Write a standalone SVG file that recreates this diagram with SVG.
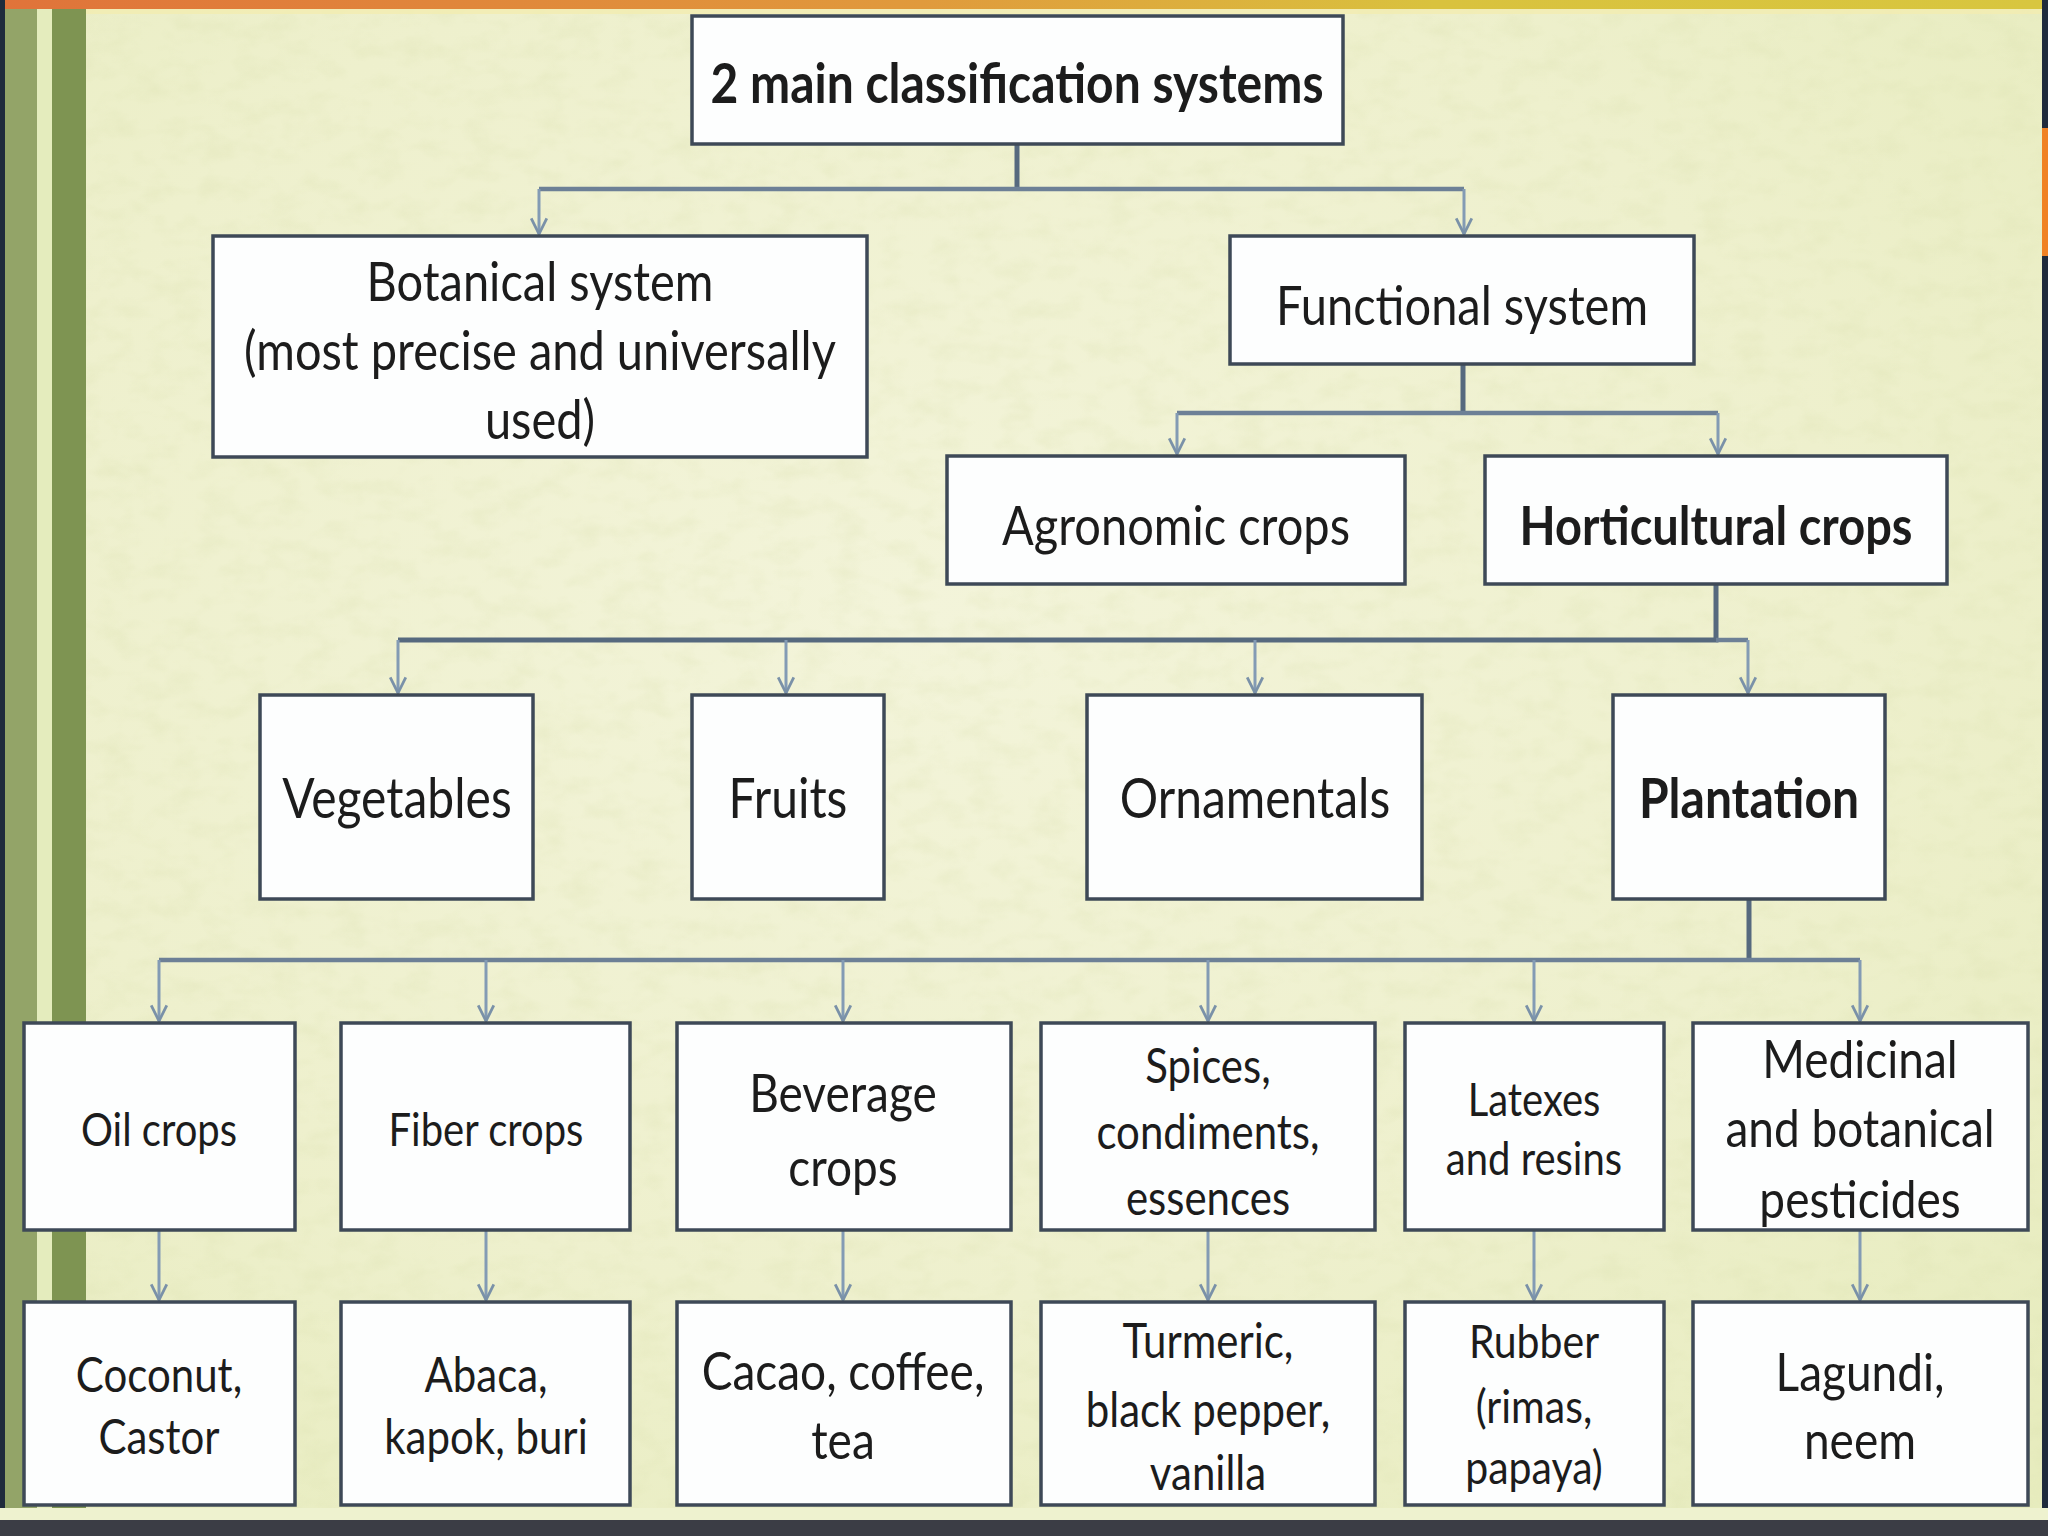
<svg xmlns="http://www.w3.org/2000/svg" width="2048" height="1536" viewBox="0 0 2048 1536">
<defs>
<radialGradient id="bg" cx="0.45" cy="0.4" r="0.75">
<stop offset="0" stop-color="#f3f4da"/>
<stop offset="0.6" stop-color="#eef0cd"/>
<stop offset="1" stop-color="#e7ecbe"/>
</radialGradient>
<linearGradient id="topbar" x1="0" y1="0" x2="1" y2="0">
<stop offset="0" stop-color="#e0733a"/>
<stop offset="0.45" stop-color="#e09a3c"/>
<stop offset="0.7" stop-color="#d9c23e"/>
<stop offset="1" stop-color="#d8c63f"/>
</linearGradient>
<filter id="paper" x="0" y="0" width="1" height="1">
<feTurbulence type="fractalNoise" baseFrequency="0.03 0.05" numOctaves="3" seed="7"/>
<feColorMatrix type="matrix" values="0 0 0 0 0.70  0 0 0 0 0.74  0 0 0 0 0.42  0 0 0 1.4 -0.6"/>
</filter>
<marker id="arr" markerUnits="userSpaceOnUse" markerWidth="20" markerHeight="20" viewBox="-16 -9 18 18" refX="0" refY="0" orient="auto">
<path d="M-14,-7 L0,0 L-14,7" fill="none" stroke="#7a91a8" stroke-width="2.5"/>
</marker>
<style>
.box{fill:#fdfefe;stroke:#3e4957;stroke-width:3.5}
.t{font-family:Lato,"Open Sans","Liberation Sans",sans-serif;fill:#1c1c1c;text-anchor:middle;dominant-baseline:central;transform-box:fill-box;transform-origin:center;transform:scaleY(1.15)}
.b{font-weight:bold}
.trunk{fill:none;stroke:#56697e;stroke-width:5}
.bar{fill:none;stroke:#6d8096;stroke-width:4.5}
.drop{fill:none;stroke:#839bb4;stroke-width:3;marker-end:url(#arr)}
</style>
</defs>

<g id="background">
<rect x="0" y="0" width="2048" height="1536" fill="url(#bg)"/>
<rect x="0" y="0" width="2048" height="1536" filter="url(#paper)" opacity="0.4"/>
<rect x="0" y="0" width="2048" height="9" fill="url(#topbar)"/>
<rect x="0" y="9" width="2048" height="5" fill="#f2ecb0" opacity="0.8"/>
<rect x="0" y="0" width="5" height="1520" fill="#1f2b3c"/>
<rect x="5" y="9" width="32" height="1505" fill="#93a468"/>
<rect x="37" y="9" width="15" height="1505" fill="#e4ecbd"/>
<rect x="52" y="9" width="34" height="1505" fill="#7e9452"/>
<rect x="2042" y="0" width="6" height="1520" fill="#1f2b3c"/>
<rect x="2042" y="128" width="6" height="128" fill="#f08224"/>
<rect x="0" y="1508" width="2048" height="12" fill="#eef2cf"/>
<rect x="0" y="1520" width="2048" height="16" fill="#3b3d45"/>
</g>

<g id="connectors">
<path class="trunk" d="M1017,144 V189"/>
<path class="bar" d="M539,189 H1464"/>
<path class="drop" d="M539,189 V234"/>
<path class="drop" d="M1464,189 V234"/>

<path class="trunk" d="M1463,364 V413"/>
<path class="bar" d="M1177,413 H1718"/>
<path class="drop" d="M1177,413 V454"/>
<path class="drop" d="M1718,413 V454"/>

<path class="trunk" d="M1716,584 V640 H398"/>
<path class="bar" d="M1716,640 H1748"/>
<path class="drop" d="M398,640 V693"/>
<path class="drop" d="M786,640 V693"/>
<path class="drop" d="M1255,640 V693"/>
<path class="drop" d="M1748,640 V693"/>

<path class="trunk" d="M1749,899 V960"/>
<path class="bar" d="M159,960 H1860"/>
<path class="drop" d="M159,960 V1021"/>
<path class="drop" d="M486,960 V1021"/>
<path class="drop" d="M843,960 V1021"/>
<path class="drop" d="M1208,960 V1021"/>
<path class="drop" d="M1534,960 V1021"/>
<path class="drop" d="M1860,960 V1021"/>

<path class="drop" d="M159,1230 V1300"/>
<path class="drop" d="M486,1230 V1300"/>
<path class="drop" d="M843,1230 V1300"/>
<path class="drop" d="M1208,1230 V1300"/>
<path class="drop" d="M1534,1230 V1300"/>
<path class="drop" d="M1860,1230 V1300"/>
</g>

<g id="n-main">
<rect class="box" x="692" y="16" width="651" height="128"/>
<text class="t b" x="1017" y="82" font-size="48">2 main classification systems</text>
</g>
<g id="n-botanical">
<rect class="box" x="213" y="236" width="654" height="221"/>
<text class="t" x="540" y="280" font-size="47">Botanical system</text>
<text class="t" x="540" y="349" font-size="47">(most precise and universally</text>
<text class="t" x="540" y="418" font-size="47">used)</text>
</g>
<g id="n-functional">
<rect class="box" x="1230" y="236" width="464" height="128"/>
<text class="t" x="1462" y="304" font-size="47">Functional system</text>
</g>
<g id="n-agronomic">
<rect class="box" x="947" y="456" width="458" height="128"/>
<text class="t" x="1176" y="524" font-size="47">Agronomic crops</text>
</g>
<g id="n-horticultural">
<rect class="box" x="1485" y="456" width="462" height="128"/>
<text class="t b" x="1716" y="524" font-size="47">Horticultural crops</text>
</g>
<g id="n-vegetables">
<rect class="box" x="260" y="695" width="273" height="204"/>
<text class="t" x="397" y="797" font-size="48">Vegetables</text>
</g>
<g id="n-fruits">
<rect class="box" x="692" y="695" width="192" height="204"/>
<text class="t" x="788" y="797" font-size="48">Fruits</text>
</g>
<g id="n-ornamentals">
<rect class="box" x="1087" y="695" width="335" height="204"/>
<text class="t" x="1255" y="797" font-size="48">Ornamentals</text>
</g>
<g id="n-plantation">
<rect class="box" x="1613" y="695" width="272" height="204"/>
<text class="t b" x="1749" y="797" font-size="48">Plantation</text>
</g>

<g id="n-oil">
<rect class="box" x="24" y="1023" width="271" height="207"/>
<text class="t" x="159" y="1128" font-size="40">Oil crops</text>
</g>
<g id="n-fiber">
<rect class="box" x="341" y="1023" width="289" height="207"/>
<text class="t" x="486" y="1128" font-size="40">Fiber crops</text>
</g>
<g id="n-beverage">
<rect class="box" x="677" y="1023" width="334" height="207"/>
<text class="t" x="843" y="1092" font-size="46">Beverage</text>
<text class="t" x="843" y="1166" font-size="46">crops</text>
</g>
<g id="n-spices">
<rect class="box" x="1041" y="1023" width="334" height="207"/>
<text class="t" x="1208" y="1064" font-size="42">Spices,</text>
<text class="t" x="1208" y="1130" font-size="42">condiments,</text>
<text class="t" x="1208" y="1196" font-size="42">essences</text>
</g>
<g id="n-latexes">
<rect class="box" x="1405" y="1023" width="259" height="207"/>
<text class="t" x="1534" y="1098" font-size="40">Latexes</text>
<text class="t" x="1534" y="1157" font-size="40">and resins</text>
</g>
<g id="n-medicinal">
<rect class="box" x="1693" y="1023" width="335" height="207"/>
<text class="t" x="1860" y="1058" font-size="46">Medicinal</text>
<text class="t" x="1860" y="1127" font-size="46">and botanical</text>
<text class="t" x="1860" y="1198" font-size="46">pesticides</text>
</g>

<g id="n-coconut">
<rect class="box" x="24" y="1302" width="271" height="203"/>
<text class="t" x="159" y="1373" font-size="42">Coconut,</text>
<text class="t" x="159" y="1435" font-size="42">Castor</text>
</g>
<g id="n-abaca">
<rect class="box" x="341" y="1302" width="289" height="203"/>
<text class="t" x="486" y="1373" font-size="42">Abaca,</text>
<text class="t" x="486" y="1435" font-size="42">kapok, buri</text>
</g>
<g id="n-cacao">
<rect class="box" x="677" y="1302" width="334" height="203"/>
<text class="t" x="843" y="1370" font-size="46">Cacao, coffee,</text>
<text class="t" x="843" y="1439" font-size="46">tea</text>
</g>
<g id="n-turmeric">
<rect class="box" x="1041" y="1302" width="334" height="203"/>
<text class="t" x="1208" y="1339" font-size="42">Turmeric,</text>
<text class="t" x="1208" y="1408" font-size="42">black pepper,</text>
<text class="t" x="1208" y="1471" font-size="42">vanilla</text>
</g>
<g id="n-rubber">
<rect class="box" x="1405" y="1302" width="259" height="203"/>
<text class="t" x="1534" y="1339" font-size="41">Rubber</text>
<text class="t" x="1534" y="1404" font-size="41">(rimas,</text>
<text class="t" x="1534" y="1465" font-size="41">papaya)</text>
</g>
<g id="n-lagundi">
<rect class="box" x="1693" y="1302" width="335" height="203"/>
<text class="t" x="1860" y="1371" font-size="46">Lagundi,</text>
<text class="t" x="1860" y="1439" font-size="46">neem</text>
</g>
</svg>
